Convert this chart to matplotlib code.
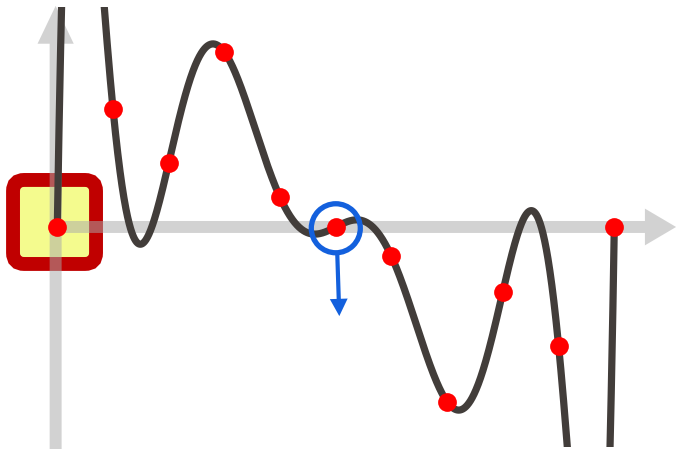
import numpy as np
from matplotlib import pyplot as plt
from matplotlib.patches import FancyBboxPatch, Circle, Rectangle


# sample points the curve passes through
xs = [0, 1, 2, 3, 4, 5, 6, 7, 8, 9, 10]
ys = [0, 2.12, 1.15, 3.14, 0.53, 0, -0.53, -3.14, -1.16, -2.13, 0]

# highlighted points
startPoint = (0, 0)
markedPoint = (5, 0)


def drawPicture():
    fig = plt.figure(figsize=(6.76, 4.49), dpi=100)
    ax = fig.add_axes([0, 0, 1, 1])
    ax.set_xlim(-1.029, 11.108)
    ax.set_ylim(-3.986, 4.075)
    ax.axis('off')

    #yellow box around the start point
    box = FancyBboxPatch((startPoint[0] - 0.795, startPoint[1] - 0.664), 1.49, 1.508,
                         boxstyle="round,pad=0,rounding_size=0.2",
                         facecolor='#f4fb8e', edgecolor='#c00000', linewidth=10, zorder=1)
    ax.add_patch(box)

    #gray axes with arrow heads
    ax.arrow(-0.13, 0, 11.24, 0, width=0.215, head_width=0.66, head_length=0.56,
             length_includes_head=True, color='#aaaaaa', alpha=0.52, linewidth=0, zorder=2)
    ax.arrow(-0.03, -3.99, 0, 7.96, width=0.215, head_width=0.65, head_length=0.68,
             length_includes_head=True, color='#aaaaaa', alpha=0.52, linewidth=0, zorder=2)

    #polynomial through all the points
    coeffs = np.polyfit(xs, ys, len(xs) - 1)
    xCurve = np.linspace(xs[0], xs[-1], 2000)
    yCurve = np.polyval(coeffs, xCurve)
    line, = ax.plot(xCurve, yCurve, color='#423d3a', linewidth=5.2,
                    solid_capstyle='butt', zorder=3)
    clip = Rectangle((-2, -3.95), 15, 7.9, transform=ax.transData)
    line.set_clip_path(clip)

    ax.plot(xs, ys, 'o', color='#ff0000', markersize=13.5, markeredgewidth=0, zorder=4)

    #blue circle with arrow pointing down
    ring = Circle((markedPoint[0], markedPoint[1] - 0.023), 0.44, fill=False,
                  edgecolor='#1360dd', linewidth=3.8, zorder=5)
    ax.add_patch(ring)
    ax.arrow(markedPoint[0] + 0.027, -0.5, 0.036, -1.1, width=0.075, head_width=0.32,
             head_length=0.31, length_includes_head=True, color='#1360dd',
             linewidth=0, zorder=5)

    plt.savefig('out.png', dpi=100)


if __name__ == "__main__":
    drawPicture()
